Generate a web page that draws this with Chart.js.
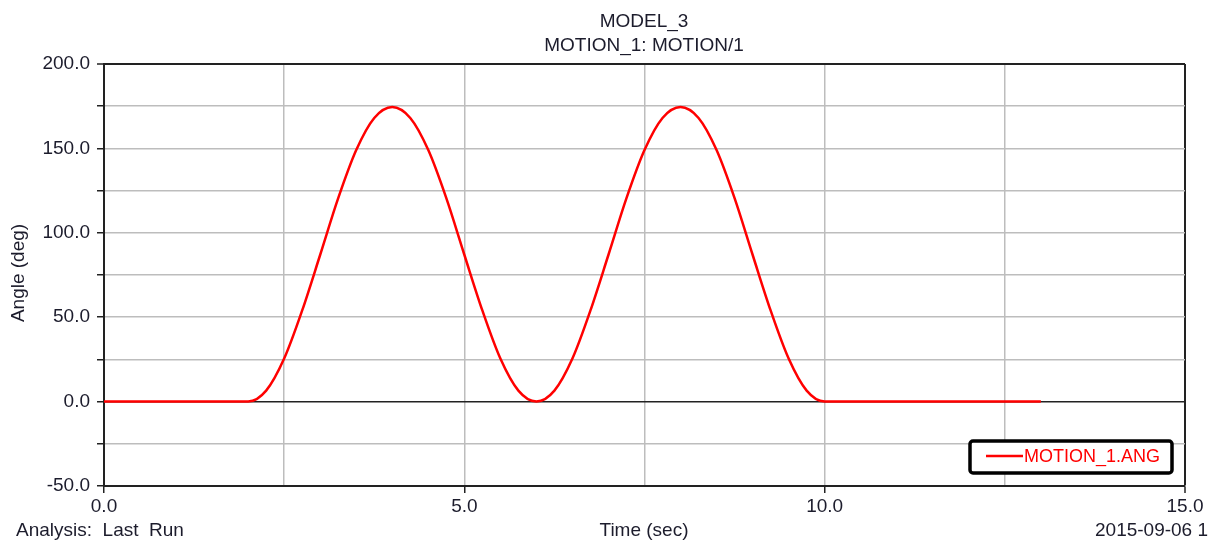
<!DOCTYPE html>
<html>
<head>
<meta charset="utf-8">
<script src="https://cdn.jsdelivr.net/npm/chart.js@4"></script>
<style>
  html, body { margin: 0; padding: 0; background: #fff; }
  #wrap { width: 1210px; height: 542px; }
</style>
</head>
<body>
<div id="wrap"><canvas id="c"></canvas></div>
<script>
// time (sec) and angle (deg)
var times = [0, 0.5, 1, 1.5, 2, 2.25, 2.5, 2.75, 3, 3.25, 3.5, 3.75, 4, 4.25, 4.5, 4.75, 5,
  5.25, 5.5, 5.75, 6, 6.25, 6.5, 6.75, 7, 7.25, 7.5, 7.75, 8, 8.25, 8.5, 8.75, 9,
  9.25, 9.5, 9.75, 10, 10.5, 11, 11.5, 12, 12.5, 13];
var angles = [0, 0, 0, 0, 0, 6.5, 25.5, 54, 87, 120.5, 149, 168, 174.5, 168, 149, 120.5, 87,
  54, 25.5, 6.5, 0, 6.5, 25.5, 54, 87, 120.5, 149, 168, 174.5, 168, 149, 120.5, 87,
  54, 25.5, 6.5, 0, 0, 0, 0, 0, 0, 0];
var seriesName = "MOTION_1.ANG";
var titleLines = ["MODEL_3", "MOTION_1: MOTION/1"];
var yTitle = "Angle (deg)";
var xTitle = "Time (sec)";
var footLeft = "Analysis:  Last  Run";
var footRight = "2015-09-06 1";

var FONT = "'Liberation Sans', Arial, sans-serif";
var TXT = "#1c1c2c";

var pts = times.map(function (t, i) { return { x: t, y: angles[i] }; });

var textPlugin = {
  id: "texts",
  afterDraw: function (chart) {
    var ctx = chart.ctx;
    ctx.save();
    ctx.fillStyle = TXT;
    ctx.font = "19px " + FONT;
    ctx.textBaseline = "middle";
    ctx.textAlign = "center";
    ctx.fillText(titleLines[0], 644, 22);
    ctx.fillText(titleLines[1], 644, 46);
    ctx.fillText(xTitle, 644, 531);
    ctx.textAlign = "left";
    ctx.fillText(footLeft, 16, 531);
    ctx.fillText(footRight, 1095, 531);

    ctx.save();
    ctx.translate(19, 273);
    ctx.rotate(-Math.PI / 2);
    ctx.textAlign = "center";
    ctx.fillText(yTitle, 0, 0);
    ctx.restore();

    // legend box
    ctx.fillStyle = "#fff";
    ctx.strokeStyle = "#000";
    ctx.lineWidth = 3.5;
    ctx.beginPath();
    ctx.roundRect(970, 441, 202, 32, 3);
    ctx.fill();
    ctx.stroke();
    ctx.strokeStyle = "#ff0000";
    ctx.lineWidth = 2.5;
    ctx.beginPath();
    ctx.moveTo(986, 456);
    ctx.lineTo(1023, 456);
    ctx.stroke();
    ctx.fillStyle = "#ff0000";
    ctx.font = "18px " + FONT;
    ctx.textAlign = "left";
    ctx.fillText(seriesName, 1024, 457);
    ctx.restore();
  }
};

new Chart(document.getElementById("c"), {
  type: "line",
  data: {
    datasets: [{
      label: seriesName,
      data: pts,
      borderColor: "#ff0000",
      borderWidth: 2.5,
      pointRadius: 0,
      fill: false,
      cubicInterpolationMode: "monotone"
    }]
  },
  options: {
    responsive: true,
    maintainAspectRatio: false,
    animation: false,
    layout: { padding: { left: 0, top: 64, right: 25, bottom: 0 } },
    plugins: { legend: { display: false }, title: { display: false }, tooltip: { enabled: false } },
    scales: {
      x: {
        type: "linear",
        min: 0,
        max: 15,
        afterFit: function (s) { s.height = 56; },
        ticks: {
          stepSize: 2.5,
          autoSkip: false,
          maxRotation: 0,
          padding: 2,
          color: TXT,
          font: { family: FONT, size: 19 },
          callback: function (v) { return v % 5 === 0 ? v.toFixed(1) : ""; }
        },
        grid: {
          color: function (c) { return c.tick && c.tick.value === 15 ? "#222" : "#bdbdbd"; },
          lineWidth: function (c) { return c.tick && c.tick.value === 15 ? 2 : 1.5; },
          tickColor: function (c) { return c.tick && c.tick.value % 5 === 0 ? "#222" : "rgba(0,0,0,0)"; },
          tickLength: 7,
          tickWidth: 1.5
        },
        border: { color: "#222", width: 2 }
      },
      y: {
        min: -50,
        max: 200,
        afterFit: function (s) { s.width = 104; },
        ticks: {
          stepSize: 25,
          autoSkip: false,
          padding: 7,
          color: TXT,
          font: { family: FONT, size: 19 },
          callback: function (v) { return v % 50 === 0 ? v.toFixed(1) : ""; }
        },
        grid: {
          color: function (c) {
            if (!c.tick) return "#bdbdbd";
            return (c.tick.value === 0 || c.tick.value === 200) ? "#222" : "#bdbdbd";
          },
          lineWidth: function (c) {
            if (!c.tick) return 1.5;
            return c.tick.value === 200 ? 2 : 1.5;
          },
          tickColor: "#222",
          tickLength: 7,
          tickWidth: 1.5
        },
        border: { color: "#222", width: 2 }
      }
    }
  },
  plugins: [textPlugin]
});
</script>
</body>
</html>
